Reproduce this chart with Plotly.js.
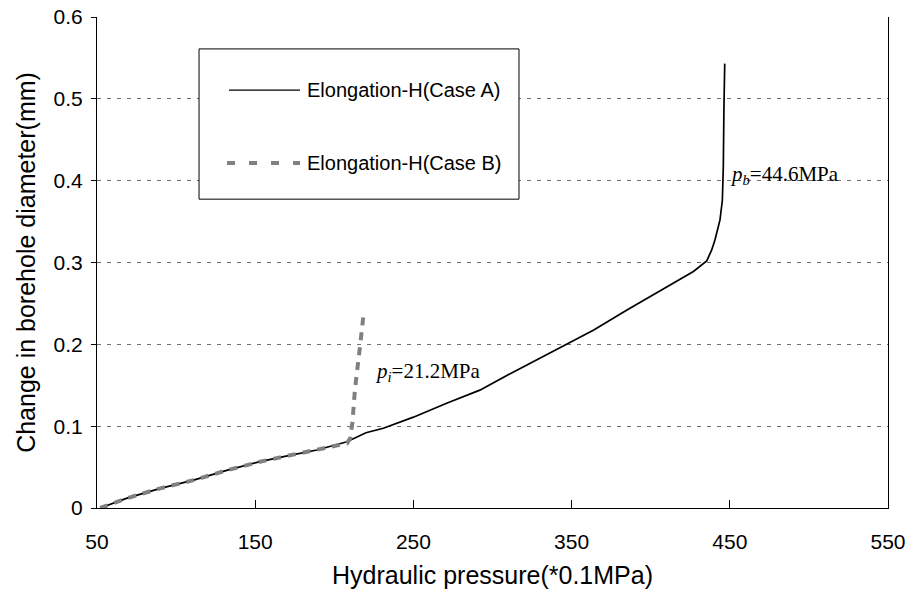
<!DOCTYPE html>
<html>
<head>
<meta charset="utf-8">
<script src="https://cdn.plot.ly/plotly-3.0.1.min.js"></script>
<style>html,body{margin:0;padding:0;background:#fff;}#chart{width:908px;height:596px;}</style>
</head>
<body>
<div id="chart"></div>
<script>
// Case A: hydraulic pressure (*0.1MPa) and change in borehole diameter (mm)
const pressureA = [52, 69, 90, 111, 132, 153, 168, 189, 208, 220, 231, 240, 250, 271, 292, 313, 334, 354, 364, 385, 406, 427, 435.4, 438.5, 440.6, 443.8, 445.3, 445.9, 446.3, 446.8];
const diameterA = [0, 0.012, 0.024, 0.034, 0.046, 0.0566, 0.0627, 0.0709, 0.081, 0.092, 0.0975, 0.104, 0.111, 0.128, 0.144, 0.166, 0.187, 0.208, 0.2175, 0.242, 0.266, 0.289, 0.302, 0.315, 0.3275, 0.352, 0.376, 0.417, 0.49, 0.543];
// Case B
const pressureB = [52, 69, 90, 111, 132, 153, 168, 189, 205, 208, 210, 211.5, 213, 215, 216.7, 218.5];
const diameterB = [0, 0.012, 0.024, 0.034, 0.046, 0.0566, 0.0627, 0.0709, 0.077, 0.079, 0.085, 0.105, 0.144, 0.173, 0.205, 0.237];

const seriesNames = ["Elongation-H(Case A)", "Elongation-H(Case B)"];
const xTickVals = [50, 150, 250, 350, 450, 550];
const yTickVals = [0, 0.1, 0.2, 0.3, 0.4, 0.5, 0.6];
const yTickText = ["0", "0.1", "0.2", "0.3", "0.4", "0.5", "0.6"];

const sans = "Liberation Sans, Arial, sans-serif";
const serif = "Liberation Serif, Times New Roman, serif";

const traces = [
  {x: pressureA, y: diameterA, mode: "lines", name: seriesNames[0],
   line: {color: "#000000", width: 1.7}, showlegend: false},
  {x: pressureB, y: diameterB, mode: "lines", name: seriesNames[1],
   line: {color: "#808080", width: 4, dash: "8px,7px"}, showlegend: false}
];

const layout = {
  width: 908, height: 596,
  margin: {l: 97, r: 20, t: 17, b: 88},
  paper_bgcolor: "#fff", plot_bgcolor: "#fff",
  font: {family: sans, color: "#000"},
  xaxis: {
    range: [50, 550], tickvals: xTickVals, ticktext: xTickVals.map(String),
    ticks: "inside", ticklen: 8, tickcolor: "#000", tickwidth: 1,
    showline: true, linecolor: "#000", linewidth: 1, mirror: false,
    showgrid: false, zeroline: false,
    tickfont: {size: 21, family: sans}, ticklabelstandoff: 15,
    title: {text: "Hydraulic pressure(*0.1MPa)", font: {size: 25, family: sans}, standoff: 14}
  },
  yaxis: {
    range: [0, 0.6], tickvals: yTickVals, ticktext: yTickText,
    ticks: "outside", ticklen: 5, tickcolor: "#000", tickwidth: 1,
    showline: true, linecolor: "#000", linewidth: 1, mirror: true,
    showgrid: true, gridcolor: "#707070", gridwidth: 1, griddash: "4px,6px",
    zeroline: false,
    tickfont: {size: 21, family: sans}, ticklabelstandoff: 4,
    title: {text: "Change in borehole diameter(mm)", font: {size: 25, family: sans}, standoff: 10}
  },
  shapes: [
    {type: "rect", xref: "paper", yref: "paper", x0: 0.129, x1: 0.5335, y0: 0.629, y1: 0.935,
     line: {color: "#000", width: 1}, fillcolor: "#fff", layer: "above"},
    {type: "line", xref: "paper", yref: "paper", x0: 0.1669, x1: 0.2566, y0: 0.851, y1: 0.851,
     line: {color: "#000", width: 1.2}, layer: "above"},
    {type: "line", xref: "paper", yref: "paper", x0: 0.1644, x1: 0.2566, y0: 0.7026, y1: 0.7026,
     line: {color: "#808080", width: 4, dash: "8px,14px"}, layer: "above"}
  ],
  annotations: [
    {xref: "paper", yref: "paper", x: 0.263, y: 0.851, xanchor: "left", yanchor: "middle",
     text: seriesNames[0], showarrow: false, font: {size: 20, family: sans}},
    {xref: "paper", yref: "paper", x: 0.263, y: 0.7026, xanchor: "left", yanchor: "middle",
     text: seriesNames[1], showarrow: false, font: {size: 20, family: sans}},
    {xref: "paper", yref: "paper", x: (373 - 97) / 791, y: (508 - 372) / 491, xanchor: "left", yanchor: "middle",
     text: "<i>p</i><sub><i>i</i></sub>=21.2MPa", showarrow: false, font: {size: 21, family: serif}},
    {xref: "paper", yref: "paper", x: (728 - 97) / 791, y: (508 - 175) / 491, xanchor: "left", yanchor: "middle",
     text: "<i>p</i><sub><i>b</i></sub>=44.6MPa", showarrow: false, font: {size: 21, family: serif}}
  ]
};

Plotly.newPlot("chart", traces, layout, {displayModeBar: false, staticPlot: true});
</script>
</body>
</html>
